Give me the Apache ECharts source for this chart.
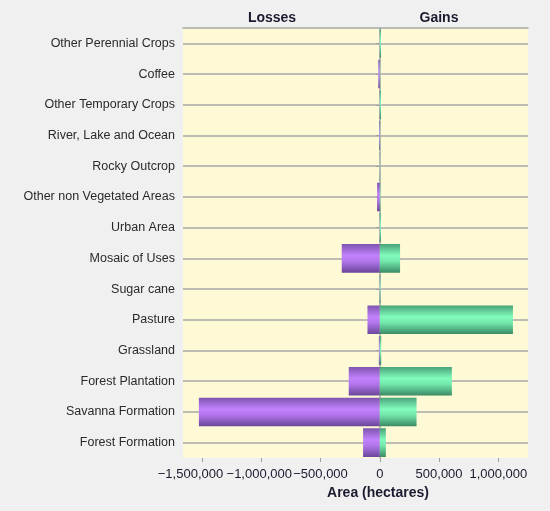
<!DOCTYPE html>
<html>
<head>
<meta charset="utf-8">
<script src="https://cdn.jsdelivr.net/npm/echarts@6/dist/echarts.min.js"></script>
<style>
  html, body { margin: 0; padding: 0; background: #f0f0f0; }
  #chart { width: 550px; height: 511px; }
</style>
</head>
<body>
<div id="chart"></div>
<script>
// bottom to top
const categories = [
  'Forest Formation', 'Savanna Formation', 'Forest Plantation', 'Grassland',
  'Pasture', 'Sugar cane', 'Mosaic of Uses', 'Urban Area',
  'Other non Vegetated Areas', 'Rocky Outcrop', 'River, Lake and Ocean',
  'Other Temporary Crops', 'Coffee', 'Other Perennial Crops'
]
const losses = [-141000, -1526000, -262000, -8000, -104000, -2000, -321000,
  -1000, -23000, -1000, -6000, -2000, -13000, -1000]
const gains = [51000, 310000, 608000, 12000, 1123000, 6000, 171000,
  9000, 5000, 3000, 3000, 10000, 3000, 10000]
const axisMin = -1660000
const axisMax = 1250000

// crowded labels on the left get nudged, like the original does
const fmt = v => {
  if (v % 500000 !== 0) return ''
  const s = Math.abs(v).toLocaleString('en-US')
  if (v === -1500000) return '{a|\u2212' + s + '}'
  if (v === -1000000) return '{b|\u2212' + s + '}'
  return v < 0 ? '\u2212' + s : s
}

const grad = (c0, c1, c2, c3) => new echarts.graphic.LinearGradient(0, 0, 0, 1, [
  {offset: 0, color: c0},
  {offset: 0.4, color: c1},
  {offset: 0.6, color: c2},
  {offset: 1, color: c3}
])

const titleStyle = {fontSize: 14, fontWeight: 'bold', fill: '#1a1a2e', fontFamily: 'Liberation Sans',
  textAlign: 'center', textVerticalAlign: 'middle'}

const chart = echarts.init(document.getElementById('chart'))
chart.setOption({
  backgroundColor: '#f0f0f0',
  textStyle: {fontFamily: 'Liberation Sans'},
  graphic: [
    {type: 'text', x: 272, y: 18, style: Object.assign({text: 'Losses'}, titleStyle)},
    {type: 'text', x: 439, y: 18, style: Object.assign({text: 'Gains'}, titleStyle)},
    {type: 'text', x: 378, y: 493, style: Object.assign({text: 'Area (hectares)'}, titleStyle)}
  ],
  grid: {left: 183, right: 22, top: 28, bottom: 53, show: true,
    backgroundColor: '#fffad6', borderWidth: 0},
  xAxis: [
    {
      type: 'value', min: axisMin, max: axisMax, splitNumber: 5,
      axisLine: {show: false},
      axisTick: {show: true, length: 4, lineStyle: {color: '#a0a0a0'}},
      axisLabel: {formatter: fmt, fontSize: 13, color: '#1a1a2e', margin: 10,
        showMinLabel: false, showMaxLabel: false,
        rich: {
          a: {fontSize: 13, color: '#1a1a2e', padding: [0, 23, 0, 0]},
          b: {fontSize: 13, color: '#1a1a2e', padding: [0, 4, 0, 0]}
        }},
      splitLine: {show: false}
    },
    {
      type: 'value', position: 'top', min: axisMin, max: axisMax,
      axisLine: {show: true, lineStyle: {color: '#a8a8a8', width: 1.5}},
      axisTick: {show: false}, axisLabel: {show: false}, splitLine: {show: false}
    }
  ],
  yAxis: {
    type: 'category', data: categories,
    axisLine: {show: true, lineStyle: {color: '#a8a8a8', width: 1.5}},
    axisTick: {show: true, alignWithLabel: true, length: 4, lineStyle: {color: '#a0a0a0'}},
    axisLabel: {fontSize: 12.5, color: '#2a2a2a', margin: 8},
    splitLine: {show: true, alignWithLabel: true, lineStyle: {color: '#a8a8a8', width: 1.5}}
  },
  series: [
    {
      name: 'Losses', type: 'bar', stack: 'total', data: losses,
      barCategoryGap: '7%', z: 3,
      itemStyle: {color: grad('#7e54b0', '#c282fb', '#b376ec', '#6a469a')}
    },
    {
      name: 'Gains', type: 'bar', stack: 'total', data: gains,
      barCategoryGap: '7%', z: 3,
      itemStyle: {color: grad('#4aa27a', '#82fcbc', '#74e8ad', '#3a8a64')}
    }
  ]
})
</script>
</body>
</html>
